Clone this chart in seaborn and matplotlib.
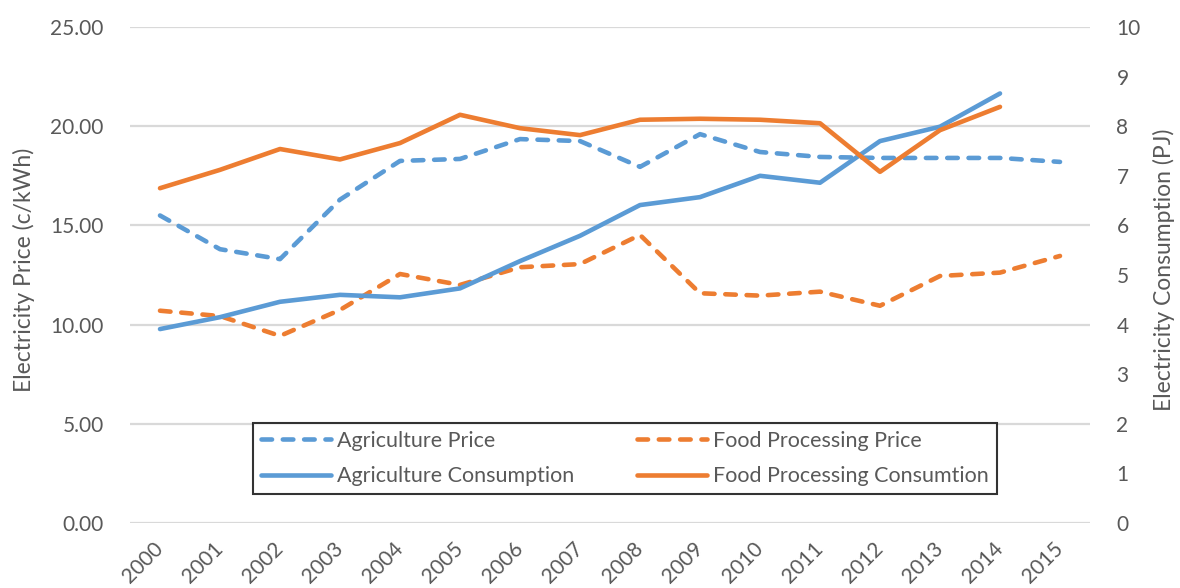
import matplotlib
matplotlib.use("Agg")
import matplotlib.pyplot as plt
import seaborn as sns

# Electricity price (c/kWh) and consumption (PJ), 2000-2015
years = list(range(2000, 2016))
agri_price = [15.5, 13.8, 13.3, 16.3, 18.25, 18.35, 19.35, 19.25,
              17.95, 19.6, 18.7, 18.45, 18.4, 18.4, 18.4, 18.2]
food_price = [10.7, 10.43, 9.43, 10.74, 12.55, 12.0, 12.89, 13.05,
              14.52, 11.58, 11.46, 11.66, 10.95, 12.45, 12.62, 13.46]
cons_years = list(range(2000, 2015))
agri_cons = [3.91, 4.15, 4.46, 4.6, 4.55, 4.73, 5.28, 5.79,
             6.41, 6.57, 7.0, 6.86, 7.7, 7.99, 8.66]
food_cons = [6.75, 7.12, 7.54, 7.33, 7.66, 8.23, 7.96, 7.82,
             8.13, 8.15, 8.13, 8.06, 7.08, 7.92, 8.39]

price_ticks = [0, 5, 10, 15, 20, 25]
cons_ticks = list(range(0, 11))

BLUE = "#5B9BD5"
ORANGE = "#ED7D31"
TEXT = "#595959"
GRID = "#D9D9D9"
LW = 3.3
DASH = (0, (2.3, 2.35))
TICK_FS = 15
TITLE_FS = 16.5
LEG_FS = 15.5

sns.set_theme(style="white")
plt.rcParams["font.family"] = ["Lato", "DejaVu Sans"]

fig = plt.figure(figsize=(11.8, 5.88), dpi=100)
ax = fig.add_axes([130 / 1180, 1 - 523 / 588, 960 / 1180, 496 / 588])
ax2 = ax.twinx()

line_kw = dict(lw=LW, solid_capstyle="round", dash_capstyle="round",
               solid_joinstyle="round", dash_joinstyle="round")

sns.lineplot(x=years, y=agri_price, ax=ax, color=BLUE, linestyle=DASH,
             label="Agriculture Price", legend=False, **line_kw)
sns.lineplot(x=years, y=food_price, ax=ax, color=ORANGE, linestyle=DASH,
             label="Food Processing Price", legend=False, **line_kw)
sns.lineplot(x=cons_years, y=agri_cons, ax=ax2, color=BLUE,
             label="Agriculture Consumption", legend=False, **line_kw)
sns.lineplot(x=cons_years, y=food_cons, ax=ax2, color=ORANGE,
             label="Food Processing Consumtion", legend=False, **line_kw)

ax.set_xlim(1999.5, 2015.5)
ax.set_ylim(0, 25)
ax2.set_ylim(0, 10)

ax.set_yticks(price_ticks)
ax.set_yticklabels([f"{v:.2f}" for v in price_ticks])
ax2.set_yticks(cons_ticks)
ax2.set_yticklabels([str(v) for v in cons_ticks])
ax.set_xticks(years)
ax.set_xticklabels([str(y) for y in years], rotation=45, ha="right",
                   va="center", rotation_mode="anchor")

ax.tick_params(axis="y", length=0, pad=19, labelcolor=TEXT, labelsize=TICK_FS)
ax2.tick_params(axis="y", length=0, pad=19, labelcolor=TEXT, labelsize=TICK_FS)
ax.tick_params(axis="x", length=0, pad=16, labelcolor=TEXT, labelsize=TICK_FS)

ax.yaxis.grid(True, color=GRID, lw=1.6)
ax.xaxis.grid(False)
ax2.grid(False)
for a in (ax, ax2):
    for s in a.spines.values():
        s.set_visible(False)

ax.set_ylabel("Electricity Price (c/kWh)", color=TEXT, fontsize=TITLE_FS)
ax2.set_ylabel("Electricity Consumption (PJ)", color=TEXT, fontsize=TITLE_FS)
ax.yaxis.set_label_coords(-0.099, 0.51)
ax2.yaxis.set_label_coords(1.066, 0.51)
ax2.yaxis.label.set_rotation(90)

# two-column legend filled row by row: prices on top, consumption below
l_ap, l_fp = ax.get_lines()[:2]
l_ac, l_fc = ax2.get_lines()[:2]
handles = [l_ap, l_ac, l_fp, l_fc]
leg = fig.legend(handles, [h.get_label() for h in handles], ncol=2,
                 loc="upper left", bbox_to_anchor=(253 / 1180, 1 - 423 / 588),
                 frameon=True, fancybox=False, fontsize=LEG_FS,
                 handlelength=3.25, handletextpad=0.3, columnspacing=2.9,
                 labelspacing=0.72, borderpad=0.36, borderaxespad=0)
leg.get_frame().set_edgecolor("black")
leg.get_frame().set_linewidth(1.5)
leg.get_frame().set_facecolor("white")
for t in leg.get_texts():
    t.set_color(TEXT)

fig.savefig("out.png", dpi=100, facecolor="white")
